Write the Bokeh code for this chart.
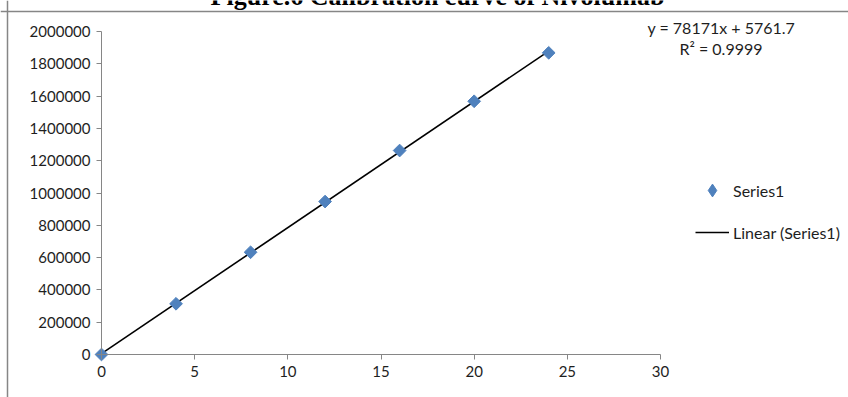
import numpy as np
from bokeh.plotting import figure
from bokeh.models import (Range1d, FixedTicker, NumeralTickFormatter, Legend,
                          LegendItem, Label, Span, LinearAxis)
from bokeh.embed import file_html
from bokeh.resources import INLINE

# ---- data ----
conc = [0, 4, 8, 12, 16, 20, 24]
area = [0, 314000, 633000, 947000, 1263000, 1568000, 1868000]
x_ticks = [0, 5, 10, 15, 20, 25, 30]
y_ticks = [0, 200000, 400000, 600000, 800000, 1000000, 1200000,
           1400000, 1600000, 1800000, 2000000]
title_text = "Figure.6 Calibration curve of Nivolumab"
eq_text = "y = 78171x + 5761.7"
r2_text = "R\u00b2 = 0.9999"
series_name = "Series1"
trend_name = "Linear (Series1)"

slope, intercept = np.polyfit(conc, area, 1)
trend_x = [min(conc), max(conc)]
trend_y = [slope * v + intercept for v in trend_x]

# ---- layout (pixels on the canvas) ----
W, H = 848, 397
PX_L, PX_R, PX_B, PX_T = 101, 660, 354, 31
X0, X1 = x_ticks[0], x_ticks[-1]
Y0, Y1 = y_ticks[0], y_ticks[-1]
sx = (PX_R - PX_L) / (X1 - X0)
sy = (PX_B - PX_T) / (Y1 - Y0)
x_range = Range1d(X0 - PX_L / sx, X1 + (W - PX_R) / sx)
y_range = Range1d(Y0 - (H - PX_B) / sy, Y1 + PX_T / sy)

FONT = "Lato"
TXT = "#1e1e1e"
AX = "#868686"
BLUE = "#4F81BD"

p = figure(width=W, height=H, output_backend="svg", toolbar_location=None,
           x_range=x_range, y_range=y_range,
           x_axis_location=None, y_axis_location=None,
           min_border=0, min_border_left=0, min_border_right=0,
           min_border_top=0, min_border_bottom=0)
p.outline_line_color = None
p.background_fill_color = "white"
p.border_fill_color = "white"
p.xgrid.visible = False
p.ygrid.visible = False

xaxis = LinearAxis(fixed_location=Y0, bounds=(X0, X1))
yaxis = LinearAxis(fixed_location=X0, bounds=(Y0, Y1))
xaxis.ticker = FixedTicker(ticks=x_ticks)
yaxis.ticker = FixedTicker(ticks=y_ticks)
yaxis.formatter = NumeralTickFormatter(format="0")
for ax in (xaxis, yaxis):
    ax.axis_line_color = AX
    ax.major_tick_line_color = AX
    ax.major_tick_out = 5
    ax.major_tick_in = 0
    ax.minor_tick_line_color = None
    ax.major_label_text_font = FONT
    ax.major_label_text_font_size = "15px"
    ax.major_label_text_color = TXT
xaxis.major_label_standoff = 6
yaxis.major_label_standoff = 6
p.add_layout(xaxis, "below")
p.add_layout(yaxis, "left")

# chart-area border (left and top edges visible)
p.add_layout(Span(location=X0 + (7 - PX_L) / sx, dimension="height",
                  line_color=AX, line_width=1.5))
p.add_layout(Span(location=Y0 + (PX_B - 11) / sy, dimension="width",
                  line_color=AX, line_width=1.5))

ln = p.line(trend_x, trend_y, line_color="black", line_width=1.6)
sc = p.scatter(conc, area, marker="square", size=9, angle=np.pi / 4,
               fill_color=BLUE, line_color=BLUE)
# legend key (diamond), no data drawn
key = p.scatter([np.nan], [np.nan], marker="diamond",
                fill_color=BLUE, line_color=BLUE)

legend = Legend(items=[LegendItem(label=series_name, renderers=[key]),
                       LegendItem(label=trend_name, renderers=[ln])],
                location=(695, H - 248), glyph_width=34, glyph_height=32,
                label_height=20, label_standoff=4, spacing=10, padding=0,
                margin=0, border_line_color=None, background_fill_alpha=0,
                label_text_font=FONT, label_text_font_size="16px",
                label_text_color=TXT)
p.add_layout(legend, "center")

p.add_layout(Label(x=647, y=H - 26.7, x_units="screen", y_units="screen",
                   text=eq_text, text_font=FONT, text_font_size="16px",
                   text_color=TXT, text_baseline="middle"))
p.add_layout(Label(x=679, y=H - 48.3, x_units="screen", y_units="screen",
                   text=r2_text, text_font=FONT, text_font_size="16px",
                   text_color=TXT, text_baseline="middle"))
p.add_layout(Label(x=437, y=H + 4, x_units="screen", y_units="screen",
                   text=title_text, text_font="Liberation Serif",
                   text_font_style="bold", text_font_size="26px",
                   text_color="black", text_align="center",
                   text_baseline="alphabetic"))

open("out.html", "w").write(file_html(p, INLINE))
